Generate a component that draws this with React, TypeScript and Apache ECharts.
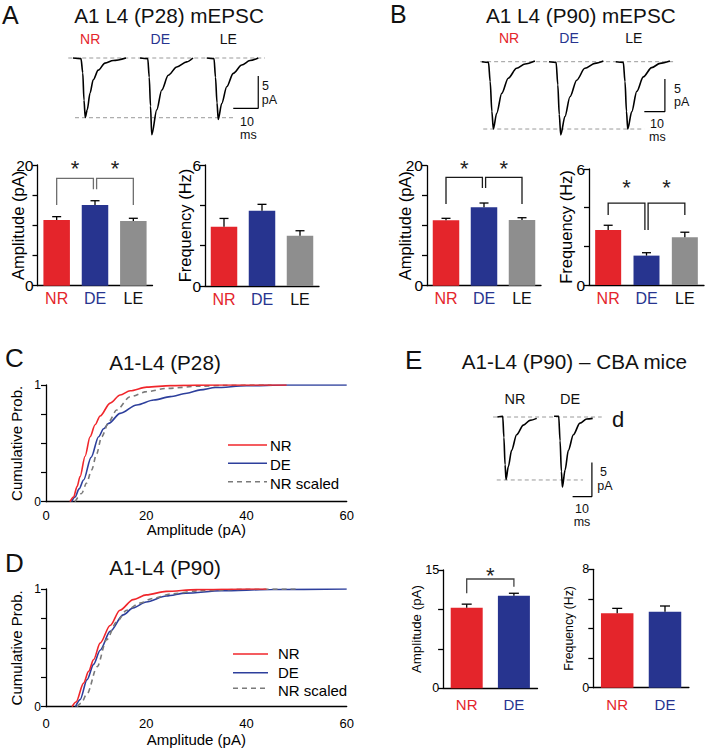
import React, { useEffect, useRef } from "react";
import * as echarts from "echarts";

const FONT = '"Liberation Sans", Arial, Helvetica, sans-serif';
const RED = "#e4252b";
const BLUE = "#27348f";
const GRAY = "#8e8e8e";
const CDF_RED = "#f0262b";
const CDF_BLUE = "#2d3f9c";
const CDF_GRAY = "#7a7a7a";

// ---- bar data ----
const groups3 = ["NR", "DE", "LE"];
const groups2 = ["NR", "DE"];

const ampP28 = [10.9, 13.37, 10.72];
const ampP28Sem = [0.54, 0.71, 0.45];
const freqP28 = [2.94, 3.73, 2.49];
const freqP28Sem = [0.41, 0.32, 0.25];
const ampP90 = [10.9, 13.07, 10.95];
const ampP90Sem = [0.33, 0.71, 0.38];
const freqP90 = [2.85, 1.52, 2.47];
const freqP90Sem = [0.24, 0.15, 0.26];
const ampCBA = [10.2, 11.75];
const ampCBASem = [0.47, 0.3];
const freqCBA = [5.03, 5.14];
const freqCBASem = [0.33, 0.38];

// significance brackets: [from, to, barLevel, legFromEnd, legToEnd, sharedEnd, starLevel]
const sigAmpP28 = [
  [0, 1, 17.8, 13.37, 15.97, 1, 20.2],
  [1, 2, 17.8, 15.97, 13.37, 0, 20.2],
];
const sigAmpP90 = [
  [0, 1, 18.07, 13.6, 16.3, 1, 20.45],
  [1, 2, 18.07, 16.3, 13.6, 0, 20.45],
];
const sigFreqP90 = [
  [0, 1, 4.23, 3.62, 2.85, 1, 5.28],
  [1, 2, 4.23, 2.85, 3.62, 0, 5.28],
];
const sigAmpCBA = [[0, 1, 13.86, 12.05, 12.88, -1, 14.9]];

// ---- example mEPSC traces [ms, pA] ----
const traceP28NR = [[2.4, 0], [5.6, -0.1], [6.3, -2.3], [6.8, -6.6], [7.3, -9.3], [8.1, -8.1], [9.2, -5.5], [10.5, -3.4], [12.5, -1.9], [15.2, -0.8], [18.5, -0.4], [23.6, 0]];
const traceP28DE = [[29.2, 0], [32.3, -0.1], [32.9, -3], [33.4, -7.5], [33.9, -12], [35.9, -8.1], [37.9, -5.0], [40.5, -2.7], [43.9, -1.4], [47.9, -0.6], [50.4, 0]];
const traceP28LE = [[55.9, 0], [58.8, -0.1], [59.4, -3], [60, -7], [60.5, -9.6], [61.9, -7.1], [63.9, -4.5], [66.5, -2.4], [69.9, -1.1], [73.2, -0.4], [76.5, 0]];
const refP28Top = [[0.5, 0], [79.2, 0]];
const refP28Bottom = [[3.2, -9.33], [66.5, -9.33]];
const scaleP28 = [[66.5, -7.86], [76.5, -7.86], [76.5, -2.8]];

const traceP90NR = [[1.8, 0], [5.0, -0.1], [5.8, -3], [6.6, -7.5], [7.3, -10.2], [8.9, -7.8], [11.3, -4.8], [14.4, -2.5], [18.4, -1.0], [22.4, -0.35], [27.1, 0.1]];
const traceP90DE = [[33.8, 0], [37.2, -0.1], [38.0, -3.5], [38.7, -8], [39.4, -11.1], [41.4, -8.3], [43.8, -5.3], [47.0, -2.8], [50.9, -1.0], [55.7, -0.25], [59.7, 0.1]];
const traceP90LE = [[65.6, 0], [69.2, -0.1], [70, -3], [70.7, -7.5], [71.3, -10.2], [73.2, -7.6], [75.6, -4.5], [78.7, -2.3], [82.7, -0.9], [86.7, -0.25], [91.4, 0.1]];
const refP90Top = [[1, 0], [93.8, 0]];
const refP90Bottom = [[2.5, -10.2], [79.2, -10.2]];
const scaleP90 = [[79.2, -7.56], [89, -7.56], [89, -2.62]];

const traceCBANR = [[3.8, 0], [6.6, 0.1], [7.2, -3], [7.8, -7], [8.3, -9.2], [9.5, -7.3], [11.2, -4.9], [13.8, -2.6], [17.3, -1.2], [20.7, -0.5], [24.2, -0.2]];
const traceCBADE = [[33.2, 0.1], [35.6, 0.1], [36.3, -3.5], [37, -8], [37.5, -10.3], [38.9, -7.8], [40.6, -4.9], [43.2, -2.6], [46.6, -0.9], [50.1, -0.3], [53.2, -0.2]];
const refCBATop = [[1.6, 0], [57.9, 0]];
const refCBABottom = [[3.5, -9.26], [48.2, -9.26]];
const scaleCBA = [[42.8, -11.7], [52.8, -11.7], [52.8, -6.7]];

// ---- cumulative distributions [pA, prob] ----
const cdfP28NR = [[4.8, 0], [5.5, 0.04], [6.2, 0.13], [6.8, 0.215], [7.8, 0.39], [8.8, 0.557], [9.8, 0.66], [10.8, 0.735], [12.8, 0.845], [14.8, 0.914], [16.8, 0.951], [20.1, 0.982], [24.8, 0.995], [30, 0.999], [40, 1], [48, 1]];
const cdfP28DE = [[5.1, 0], [5.8, 0.04], [6.6, 0.11], [7.5, 0.186], [9, 0.38], [10.5, 0.557], [11.5, 0.625], [12.5, 0.671], [14.8, 0.757], [18.1, 0.829], [21.5, 0.871], [24.8, 0.9], [28.1, 0.929], [30.8, 0.958], [33.8, 0.978], [40, 0.993], [48, 1], [60, 1]];
const cdfP28Scaled = [[5.8, 0], [7.1, 0.07], [8.1, 0.16], [9.1, 0.271], [10.1, 0.41], [11.1, 0.557], [12.6, 0.69], [14.1, 0.786], [16.8, 0.9], [20.1, 0.943], [24.1, 0.971], [30.8, 0.99], [36, 0.998], [45, 1]];

const cdfP90NR = [[5.2, 0], [6, 0.04], [7.5, 0.2], [8.5, 0.3], [9.5, 0.4], [10.8, 0.54], [12.8, 0.69], [14.75, 0.82], [17.4, 0.91], [20, 0.95], [24, 0.98], [30, 0.995], [40, 1], [44, 1]];
const cdfP90DE = [[5.9, 0], [6.8, 0.06], [8.2, 0.23], [9.5, 0.36], [10.8, 0.48], [12.8, 0.64], [15.4, 0.78], [17.4, 0.84], [20, 0.89], [24, 0.94], [27.9, 0.965], [35, 0.985], [45, 0.996], [60, 1]];
const cdfP90Scaled = [[6.2, 0], [7, 0.03], [8.2, 0.11], [10.2, 0.34], [12.1, 0.57], [14.1, 0.72], [16.1, 0.82], [18.7, 0.88], [21.3, 0.92], [25.2, 0.96], [30.5, 0.985], [40, 0.998], [50, 1]];

const cdfNames = ["NR", "DE", "NR scaled"];

const BAR_COLORS: Record<string, string> = { NR: RED, DE: BLUE, LE: GRAY };
const LABEL_COLORS: Record<string, string> = { NR: RED, DE: BLUE, LE: "#111" };
const CDF_STYLE: Record<string, any> = {
  NR: { color: CDF_RED, type: "solid" },
  DE: { color: CDF_BLUE, type: "solid" },
  "NR scaled": { color: CDF_GRAY, type: [5, 4] },
};

const errRender = (capHalf: number) => (params: any, api: any) => {
  const i = api.value(0);
  const m = api.value(1);
  const e = api.value(2);
  const p0 = api.coord([i, m]);
  const p1 = api.coord([i, m + e]);
  const st = { stroke: "#000", lineWidth: 1.3 };
  return {
    type: "group",
    children: [
      { type: "line", shape: { x1: p0[0], y1: p0[1], x2: p1[0], y2: p1[1] }, style: st },
      { type: "line", shape: { x1: p1[0] - capHalf, y1: p1[1], x2: p1[0] + capHalf, y2: p1[1] }, style: st },
    ],
  };
};

const bracketRender = (color: string) => (params: any, api: any) => {
  const a = api.value(0);
  const b = api.value(1);
  const h = api.value(2);
  const la = api.value(3);
  const lb = api.value(4);
  const sh = api.value(5);
  const s = api.value(6);
  const pa = api.coord([a, la]);
  const pb = api.coord([b, lb]);
  const yh = api.coord([a, h])[1];
  const ys = api.coord([a, s])[1];
  let xa = pa[0];
  let xb = pb[0];
  if (sh === 0) xa += 1.6;
  if (sh === 1) xb -= 1.6;
  return {
    type: "group",
    children: [
      {
        type: "polyline",
        shape: { points: [[xa, pa[1]], [xa, yh], [xb, yh], [xb, pb[1]]] },
        style: { stroke: color, lineWidth: 1.3, fill: "none" },
      },
      {
        type: "text",
        x: (xa + xb) / 2,
        y: ys + 5,
        style: { text: "*", fontSize: 22, fill: "#222", align: "center", verticalAlign: "middle", fontFamily: FONT },
      },
    ],
  };
};

function buildOption() {
  const grid: any[] = [];
  const xAxis: any[] = [];
  const yAxis: any[] = [];
  const series: any[] = [];

  const hiddenAxes = (xmin: number, xmax: number, ymin: number, ymax: number) => {
    const idx = grid.length - 1;
    xAxis.push({ type: "value", gridIndex: idx, min: xmin, max: xmax, show: false });
    yAxis.push({ type: "value", gridIndex: idx, min: ymin, max: ymax, show: false });
    return idx;
  };

  const tracePanel = (
    g: any,
    xr: [number, number],
    yr: [number, number],
    traces: number[][][],
    top: number[][],
    bottom: number[][],
    scale: number[][]
  ) => {
    grid.push(g);
    const idx = hiddenAxes(xr[0], xr[1], yr[0], yr[1]);
    const common = { xAxisIndex: idx, yAxisIndex: idx, symbol: "none", silent: true };
    [top, bottom].forEach((d) =>
      series.push({ ...common, type: "line", data: d, lineStyle: { color: "#9a9a9a", width: 1, type: [4, 3] }, z: 1 })
    );
    traces.forEach((d) =>
      series.push({ ...common, type: "line", data: d, smooth: 0.3, smoothMonotone: "x", lineStyle: { color: "#000", width: 1.6 }, z: 3 })
    );
    series.push({ ...common, type: "line", data: scale, lineStyle: { color: "#000", width: 1.2 }, z: 3 });
  };

  const barPanel = (
    g: any,
    cats: string[],
    vals: number[],
    errs: number[],
    max: number,
    interval: number,
    name: string,
    cfg: any,
    sig?: number[][]
  ) => {
    grid.push(g);
    const idx = grid.length - 1;
    xAxis.push({
      type: "category",
      gridIndex: idx,
      data: cats,
      axisTick: { show: false },
      axisLine: { show: true, lineStyle: { color: "#000", width: 1.3 } },
      axisLabel: { margin: cfg.labelMargin, fontSize: cfg.catFont, color: (v: string) => LABEL_COLORS[v] },
    });
    yAxis.push({
      type: "value",
      gridIndex: idx,
      min: 0,
      max,
      interval,
      name,
      nameLocation: "middle",
      nameGap: cfg.nameGap,
      nameMoveOverlap: false,
      nameTextStyle: { fontSize: cfg.nameFont, color: "#000" },
      axisLine: { show: true, lineStyle: { color: "#000", width: 1.3 } },
      axisTick: { show: true, length: 5, lineStyle: { color: "#000", width: 1.3 } },
      splitLine: { show: false },
      axisLabel: {
        fontSize: cfg.tickFont,
        color: "#000",
        margin: 4,
        formatter: (v: number) => (v === 0 || v === max ? String(v) : ""),
      },
    });
    series.push({
      type: "bar",
      xAxisIndex: idx,
      yAxisIndex: idx,
      barWidth: cfg.barWidth,
      silent: true,
      data: vals.map((v, i) => ({ value: v, itemStyle: { color: BAR_COLORS[cats[i]] } })),
      z: 2,
    });
    series.push({
      type: "custom",
      xAxisIndex: idx,
      yAxisIndex: idx,
      silent: true,
      data: vals.map((v, i) => [i, v, errs[i]]),
      renderItem: errRender(cfg.cap),
      z: 3,
    });
    if (sig) {
      series.push({
        type: "custom",
        xAxisIndex: idx,
        yAxisIndex: idx,
        silent: true,
        encode: { x: 0, y: 2 },
        data: sig,
        renderItem: bracketRender(cfg.sigColor),
        z: 4,
      });
    }
  };

  const cdfPanel = (g: any, curves: Record<string, number[][]>, xCfg: any) => {
    grid.push(g);
    const idx = grid.length - 1;
    xAxis.push({
      type: "value",
      gridIndex: idx,
      min: 0,
      max: 60,
      interval: 20,
      name: "Amplitude (pA)",
      nameLocation: "middle",
      nameGap: xCfg.nameGap,
      nameMoveOverlap: false,
      nameTextStyle: { fontSize: 15, color: "#000" },
      axisLine: { show: true, onZero: false, lineStyle: { color: "#000", width: 1.3 } },
      axisTick: { show: false },
      splitLine: { show: false },
      axisLabel: { fontSize: 13, color: "#000", margin: xCfg.labelMargin },
    });
    yAxis.push({
      type: "value",
      gridIndex: idx,
      min: 0,
      max: 1,
      interval: 0.25,
      name: "Cumulative Prob.",
      nameLocation: "middle",
      nameGap: 22,
      nameMoveOverlap: false,
      nameTextStyle: { fontSize: 15, color: "#000" },
      axisLine: { show: true, lineStyle: { color: "#000", width: 1.3 } },
      axisTick: { show: true, length: 5, lineStyle: { color: "#000", width: 1.2 } },
      splitLine: { show: false },
      axisLabel: { fontSize: 12, color: "#000", margin: 5, formatter: (v: number) => (v === 0 || v === 1 ? String(v) : "") },
    });
    ["DE", "NR scaled", "NR"].forEach((name, k) =>
      series.push({
        type: "line",
        name,
        xAxisIndex: idx,
        yAxisIndex: idx,
        data: curves[name],
        symbol: "none",
        smooth: 0.3,
        smoothMonotone: "x",
        silent: true,
        color: CDF_STYLE[name].color,
        lineStyle: { color: CDF_STYLE[name].color, width: 1.6, type: CDF_STYLE[name].type },
        z: 3 + k,
      })
    );
  };

  const big = { labelMargin: 5, catFont: 16, nameFont: 16.5, tickFont: 15.5, cap: 4.5 };
  const small = { labelMargin: 9, catFont: 15, tickFont: 12.5, cap: 5 };

  // Panel A
  tracePanel({ left: 67, top: 40, width: 200, height: 110 }, [0, 80], [-14.375, 2.8125], [traceP28NR, traceP28DE, traceP28LE], refP28Top, refP28Bottom, scaleP28);
  barPanel({ left: 37.5, top: 165, width: 115, height: 120.7 }, groups3, ampP28, ampP28Sem, 20, 5, "Amplitude (pA)", { ...big, nameGap: 11, barWidth: 26.5, sigColor: "#6e6e6e" }, sigAmpP28);
  barPanel({ left: 205, top: 165, width: 114, height: 121 }, groups3, freqP28, freqP28Sem, 6, 2, "Frequency (Hz)", { ...big, nameGap: 12, barWidth: 26.5 });
  // Panel B
  tracePanel({ left: 478, top: 40, width: 210, height: 110 }, [0, 100], [-13.379, 3.288], [traceP90NR, traceP90DE, traceP90LE], refP90Top, refP90Bottom, scaleP90);
  barPanel({ left: 427, top: 165.7, width: 114, height: 120 }, groups3, ampP90, ampP90Sem, 20, 5, "Amplitude (pA)", { ...big, nameGap: 13.5, barWidth: 26.5, sigColor: "#1a1a1a" }, sigAmpP90);
  barPanel({ left: 589, top: 169, width: 115, height: 116 }, groups3, freqP90, freqP90Sem, 6, 2, "Frequency (Hz)", { ...big, nameGap: 14.5, barWidth: 26, sigColor: "#1a1a1a" }, sigFreqP90);
  // Panel C / D
  cdfPanel({ left: 46, top: 385, width: 300.7, height: 116.7 }, { NR: cdfP28NR, DE: cdfP28DE, "NR scaled": cdfP28Scaled }, { nameGap: 20, labelMargin: 7 });
  cdfPanel({ left: 46, top: 589, width: 300.7, height: 117.7 }, { NR: cdfP90NR, DE: cdfP90DE, "NR scaled": cdfP90Scaled }, { nameGap: 25, labelMargin: 10 });
  // Panel E
  tracePanel({ left: 490, top: 400, width: 115.8, height: 140 }, [0, 60], [-18.088, 2.5], [traceCBANR, traceCBADE], refCBATop, refCBABottom, scaleCBA);
  barPanel({ left: 443.1, top: 570, width: 94.4, height: 118.3 }, groups2, ampCBA, ampCBASem, 15, 5, "Amplitude (pA)", { ...small, nameGap: 20, nameFont: 13.3, barWidth: 32, sigColor: "#444" }, sigAmpCBA);
  barPanel({ left: 593.3, top: 569.3, width: 95.6, height: 118.4 }, groups2, freqCBA, freqCBASem, 8, 2, "Frequency (Hz)", { ...small, nameGap: 18.5, nameFont: 12.3, barWidth: 32.5 });

  grid.forEach((g) => {
    g.containLabel = false;
    g.outerBoundsMode = "none";
  });

  const T = (text: string, x: number, y: number, size: number, color = "#111", align = "left") => ({
    type: "text",
    x,
    y,
    silent: true,
    style: { text, fontSize: size, lineHeight: size, fontFamily: FONT, fill: color, align, verticalAlign: "middle" },
  });

  // legend keys drawn beside the cumulative plots
  const legendKeys = (x1: number, x2: number, tx: number, ys: number[], ty: number[]) => {
    const out: any[] = [];
    cdfNames.forEach((name, i) => {
      const st = CDF_STYLE[name];
      out.push({
        type: "line",
        silent: true,
        shape: { x1, y1: ys[i], x2, y2: ys[i] },
        style: { stroke: st.color, lineWidth: 1.6, lineDash: st.type === "solid" ? null : st.type },
      });
      out.push(T(name, tx, ty[i], 15, "#000"));
    });
    return out;
  };

  const graphic = [
    T("A", 2, 14.5, 25),
    T("A1 L4 (P28) mEPSC", 169, 15, 20.7, "#111", "center"),
    T("NR", 90.2, 38.5, 14, RED, "center"),
    T("DE", 160.3, 38.5, 14, BLUE, "center"),
    T("LE", 228.3, 38.5, 14, "#111", "center"),
    T("5", 262, 86.3, 12.5),
    T("pA", 261.7, 100, 12.5),
    T("10", 240, 122, 12.5),
    T("ms", 240, 135, 12.5),

    T("B", 390, 14, 25),
    T("A1 L4 (P90) mEPSC", 580.8, 15, 20.7, "#111", "center"),
    T("NR", 509, 37.5, 14, RED, "center"),
    T("DE", 569, 37.5, 14, BLUE, "center"),
    T("LE", 633.8, 37.5, 14, "#111", "center"),
    T("5", 674, 89, 12.5),
    T("pA", 674, 101.7, 12.5),
    T("10", 650, 124, 12.5),
    T("ms", 649, 136.7, 12.5),

    T("C", 5, 358.3, 26),
    T("A1-L4 (P28)", 165, 362, 20.7, "#111", "center"),
    ...legendKeys(228, 267, 270, [445, 463.3, 481.7], [445.8, 464.2, 483.3]),
    T("D", 5, 563.3, 26),
    T("A1-L4 (P90)", 165, 567, 20.7, "#111", "center"),
    ...legendKeys(233, 268, 278, [654, 672.7, 688.3], [653.3, 672.3, 690.7]),

    T("E", 405, 360, 26),
    T("A1-L4 (P90) \u2013 CBA mice", 461.7, 361.5, 20.7),
    T("NR", 515, 399, 14.5, "#111", "center"),
    T("DE", 570, 399, 14.5, "#111", "center"),
    T("d", 612, 419, 22),
    T("5", 600, 471.7, 12.5),
    T("pA", 597.3, 485.7, 12.5),
    T("10", 582, 509, 12.5, "#111", "center"),
    T("ms", 582, 522, 12.5, "#111", "center"),
  ];

  return {
    animation: false,
    backgroundColor: "#fff",
    textStyle: { fontFamily: FONT },
    grid,
    xAxis,
    yAxis,
    series,
    graphic,
  };
}

export default function App() {
  const ref = useRef<HTMLDivElement>(null);
  useEffect(() => {
    const chart = echarts.init(ref.current!, null, { renderer: "svg" });
    chart.setOption(buildOption() as any);
    return () => chart.dispose();
  }, []);
  return (
    <div
      ref={ref}
      style={{ position: "absolute", left: 0, top: 0, width: 707, height: 750, background: "#fff" }}
    />
  );
}
